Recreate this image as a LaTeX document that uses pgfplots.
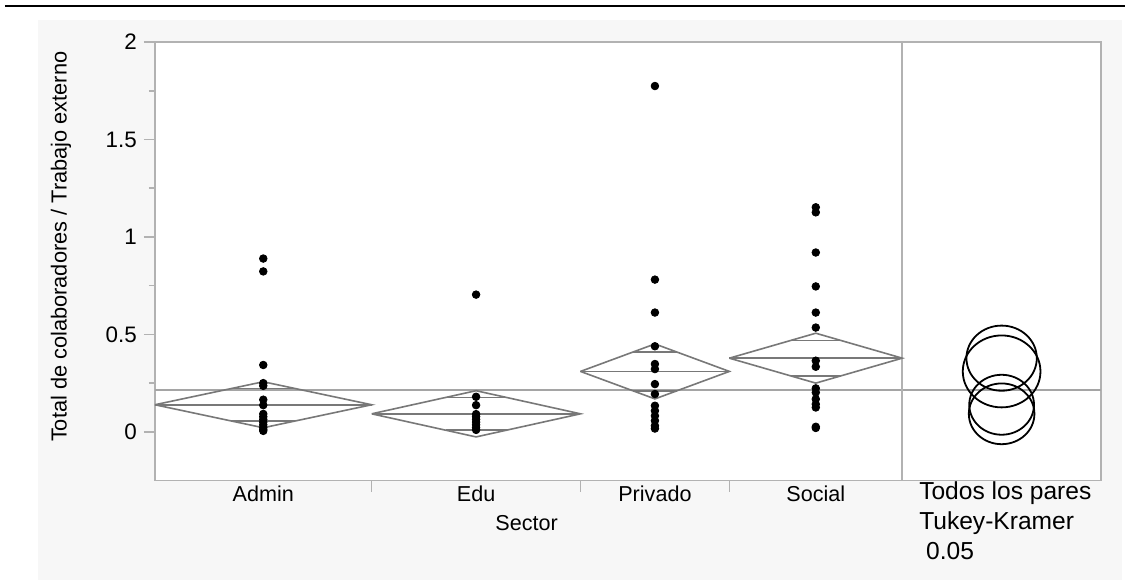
\documentclass[border=0pt]{standalone}
\usepackage{pgfplots}
\pgfplotsset{compat=1.18}
\usepackage{fontspec}
\setmainfont{Liberation Sans}
\definecolor{panel}{RGB}{247,247,247}
\definecolor{frame}{RGB}{178,178,178}
\definecolor{dia}{RGB}{120,120,120}
\definecolor{gm}{RGB}{165,165,165}

\begin{document}
\begin{tikzpicture}[x=0.5pt,y=-0.5pt]
\fill[white] (0,0) rectangle (1126,580);
\fill[panel] (38,20) rectangle (1123,580);
\draw[black,line width=1pt] (5,6) -- (1126,6);
\begin{axis}[
  at={(77.5pt,-240.5pt)}, anchor=south west,
  scale only axis, width=473.5pt, height=219.5pt,
  xmin=0, xmax=947, ymin=-0.25, ymax=2,
  axis background/.style={fill=white},
  axis line style={frame, line width=0.8pt},
  every tick/.style={frame, line width=0.8pt},
  tick align=outside,
  major tick length=5.5pt, minor tick length=3pt,
  xtick={217,426,575}, xticklabels={},
  extra x ticks={108.5,321.5,500.5,661.5},
  extra x tick labels={Admin,Edu,Privado,Social},
  extra x tick style={every tick/.style={draw=none}},
  ytick={0,0.5,1,1.5,2},
  yticklabels={0,0.5,1,1.5,2},
  minor y tick num=1,
  xtick pos=bottom, ytick pos=left,
  /pgf/number format/assume math mode=true,
  xticklabel style={font=\fontsize{10.8}{12}\selectfont, yshift=6.3pt},
  yticklabel style={font=\fontsize{11.2}{12}\selectfont},
  clip=false,
]
% grand mean and separator
\addplot[gm, line width=0.8pt] coordinates {(0,0.216) (947,0.216)};
\addplot[frame, line width=0.8pt] coordinates {(748,-0.25) (748,2)};
% diamonds
\addplot[dia, line width=0.8pt] coordinates {(0,0.139) (108.5,0.257) (217,0.139) (108.5,0.021) (0,0.139)};
\addplot[dia, line width=0.8pt] coordinates {(0,0.139) (217,0.139)};
\addplot[dia, line width=0.8pt] coordinates {(76.7,0.2224) (140.3,0.2224)};
\addplot[dia, line width=0.8pt] coordinates {(76.7,0.0556) (140.3,0.0556)};
\addplot[dia, line width=0.8pt] coordinates {(217,0.0925) (321.5,0.211) (426,0.0925) (321.5,-0.026) (217,0.0925)};
\addplot[dia, line width=0.8pt] coordinates {(217,0.0925) (426,0.0925)};
\addplot[dia, line width=0.8pt] coordinates {(290.9,0.1763) (352.1,0.1763)};
\addplot[dia, line width=0.8pt] coordinates {(290.9,0.0087) (352.1,0.0087)};
\addplot[dia, line width=0.8pt] coordinates {(426,0.310) (500.5,0.451) (575,0.310) (500.5,0.169) (426,0.310)};
\addplot[dia, line width=0.8pt] coordinates {(426,0.310) (575,0.310)};
\addplot[dia, line width=0.8pt] coordinates {(478.7,0.4097) (522.3,0.4097)};
\addplot[dia, line width=0.8pt] coordinates {(478.7,0.2103) (522.3,0.2103)};
\addplot[dia, line width=0.8pt] coordinates {(575,0.378) (661.5,0.506) (748,0.378) (661.5,0.250) (575,0.378)};
\addplot[dia, line width=0.8pt] coordinates {(575,0.378) (748,0.378)};
\addplot[dia, line width=0.8pt] coordinates {(636.2,0.4685) (686.8,0.4685)};
\addplot[dia, line width=0.8pt] coordinates {(636.2,0.2875) (686.8,0.2875)};
% points
\addplot[only marks, mark=*, mark size=1.9pt, black] coordinates {
 (108.5,0.889) (108.5,0.823) (108.5,0.343) (108.5,0.250) (108.5,0.236) (108.5,0.165) (108.5,0.137)
 (108.5,0.092) (108.5,0.078) (108.5,0.064) (108.5,0.050) (108.5,0.036) (108.5,0.022) (108.5,0.012) (108.5,0.005)};
\addplot[only marks, mark=*, mark size=1.9pt, black] coordinates {
 (321.5,0.704) (321.5,0.180) (321.5,0.137) (321.5,0.091) (321.5,0.078) (321.5,0.064) (321.5,0.050)
 (321.5,0.036) (321.5,0.022) (321.5,0.010)};
\addplot[only marks, mark=*, mark size=1.9pt, black] coordinates {
 (500.5,1.774) (500.5,0.781) (500.5,0.612) (500.5,0.439) (500.5,0.348) (500.5,0.322) (500.5,0.245)
 (500.5,0.194) (500.5,0.134) (500.5,0.108) (500.5,0.082) (500.5,0.057) (500.5,0.031) (500.5,0.017)};
\addplot[only marks, mark=*, mark size=1.9pt, black] coordinates {
 (661.5,1.152) (661.5,1.126) (661.5,0.920) (661.5,0.746) (661.5,0.612) (661.5,0.535) (661.5,0.365)
 (661.5,0.334) (661.5,0.223) (661.5,0.202) (661.5,0.168) (661.5,0.142) (661.5,0.125) (661.5,0.026) (661.5,0.020)};
% comparison circles
\addplot[only marks, mark=o, mark size=16.3pt, mark options={xscale=1.08, line width=0.9pt}, black] coordinates {(847.5,0.378)};
\addplot[only marks, mark=o, mark size=18pt, mark options={xscale=1.08, line width=0.9pt}, black] coordinates {(847.5,0.310)};
\addplot[only marks, mark=o, mark size=15pt, mark options={xscale=1.08, line width=0.9pt}, black] coordinates {(847.5,0.139)};
\addplot[only marks, mark=o, mark size=15.2pt, mark options={xscale=1.08, line width=0.9pt}, black] coordinates {(847.5,0.0925)};
\end{axis}
\node[rotate=90, font=\fontsize{10.9}{12}\selectfont] at (61,247) {Total de colaboradores / Trabajo externo};
\node[font=\fontsize{10.8}{12}\selectfont] at (527,524) {Sector};
\node[anchor=west, font=\fontsize{12.3}{14}\selectfont] at (913,494) {Todos los pares};
\node[anchor=west, font=\fontsize{12.3}{14}\selectfont] at (913,524) {Tukey-Kramer};
\node[anchor=west, font=\fontsize{12.3}{14}\selectfont] at (913,552) {\ 0.05};
\end{tikzpicture}
\end{document}
